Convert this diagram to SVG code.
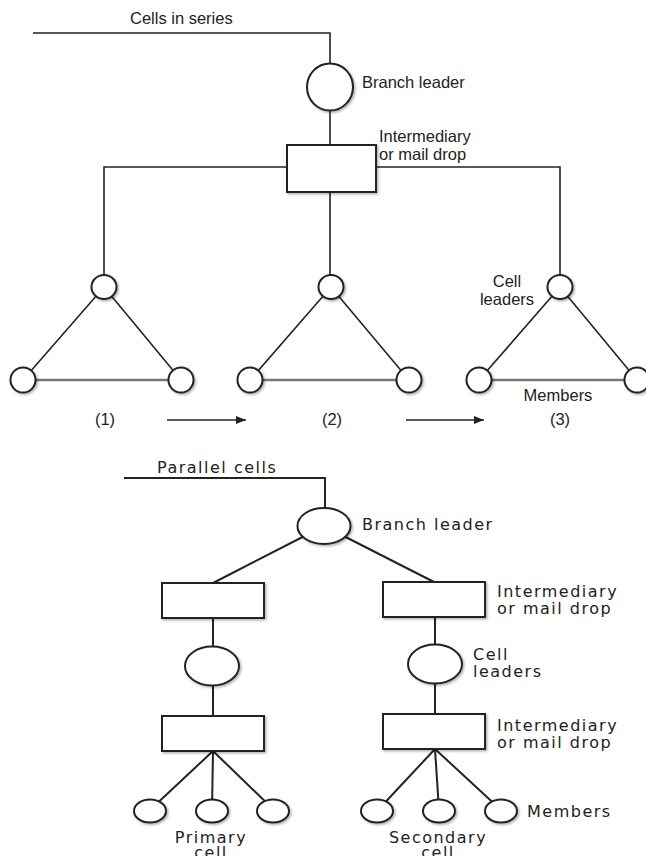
<svg xmlns="http://www.w3.org/2000/svg" width="646" height="856" viewBox="0 0 646 856">
<style>
.ln{stroke:#222;stroke-width:1.6;fill:none}
.ln2{stroke:#222;stroke-width:2;fill:none}
.base{stroke:#777;stroke-width:2.5;fill:none}
.nd{fill:#fff;stroke:#222;stroke-width:2;filter:url(#sh)}
.t{font-family:"Liberation Sans",Arial,sans-serif;font-size:16.5px;fill:#222}
.b{font-family:"DejaVu Sans","Liberation Sans",sans-serif;font-size:16px;fill:#222;letter-spacing:1.5px}
.m{text-anchor:middle}
</style>
<defs>
<filter id="sh" x="-30%" y="-30%" width="170%" height="170%">
<feDropShadow dx="1.5" dy="1.5" stdDeviation="1.2" flood-color="#000" flood-opacity="0.3"/>
</filter>
<marker id="ah" markerWidth="10" markerHeight="8" refX="10" refY="4" orient="auto" markerUnits="userSpaceOnUse">
<path d="M0,0 L10,4 L0,8 Z" fill="#222"/>
</marker>
</defs>

<g id="connectors">
<polyline class="ln" points="33,33 330,33 330,64"/>
<line class="ln" x1="330" y1="110" x2="330" y2="145"/>
<line class="ln" x1="330" y1="192" x2="330" y2="276"/>
<polyline class="ln" points="287,167 104,167 104,276"/>
<polyline class="ln" points="376,167 560,167 560,276"/>
<line class="ln" x1="104" y1="287" x2="23" y2="380"/>
<line class="ln" x1="104" y1="287" x2="181" y2="380"/>
<line class="base" x1="23" y1="380" x2="181" y2="380"/>
<line class="ln" x1="331" y1="287" x2="250" y2="380"/>
<line class="ln" x1="331" y1="287" x2="409" y2="380"/>
<line class="base" x1="250" y1="380" x2="409" y2="380"/>
<line class="ln" x1="560" y1="287" x2="479" y2="380"/>
<line class="ln" x1="560" y1="287" x2="637" y2="380"/>
<line class="base" x1="479" y1="380" x2="637" y2="380"/>
<line class="ln" x1="167" y1="420" x2="246" y2="420" marker-end="url(#ah)"/>
<line class="ln" x1="406" y1="420" x2="484" y2="420" marker-end="url(#ah)"/>
<polyline class="ln2" points="124,478 325,478 325,508"/>
<line class="ln2" x1="324" y1="526" x2="213" y2="583"/>
<line class="ln2" x1="324" y1="526" x2="434" y2="582"/>
<line class="ln2" x1="213" y1="618" x2="213" y2="647"/>
<line class="ln2" x1="435" y1="617" x2="435" y2="645"/>
<line class="ln2" x1="213" y1="685" x2="213" y2="716"/>
<line class="ln2" x1="435" y1="683" x2="435" y2="714"/>
<line class="ln2" x1="213" y1="751" x2="150" y2="810"/>
<line class="ln2" x1="213" y1="751" x2="212" y2="810"/>
<line class="ln2" x1="213" y1="751" x2="274" y2="810"/>
<line class="ln2" x1="435" y1="749" x2="378" y2="810"/>
<line class="ln2" x1="435" y1="749" x2="439" y2="810"/>
<line class="ln2" x1="435" y1="749" x2="501" y2="810"/>
</g>

<g id="series-branch-leader"><ellipse class="nd" cx="330" cy="87" rx="23" ry="23.5"/><text class="t" x="362" y="88">Branch leader</text></g>
<g id="series-intermediary"><rect class="nd" x="287" y="145" width="89" height="47"/><text class="t" x="379" y="142">Intermediary</text><text class="t" x="379" y="160">or mail drop</text></g>
<g id="series-label"><text class="t" x="130" y="24">Cells in series</text></g>

<g id="cell1">
<ellipse class="nd" cx="104" cy="287" rx="12.5" ry="12"/>
<ellipse class="nd" cx="23" cy="380" rx="12.5" ry="12.5"/>
<ellipse class="nd" cx="181" cy="380" rx="12.5" ry="12.5"/>
<text class="t m" x="105" y="425">(1)</text>
</g>
<g id="cell2">
<ellipse class="nd" cx="331" cy="287" rx="12.5" ry="12"/>
<ellipse class="nd" cx="250" cy="380" rx="12.5" ry="12.5"/>
<ellipse class="nd" cx="409" cy="380" rx="12.5" ry="12.5"/>
<text class="t m" x="332" y="425">(2)</text>
</g>
<g id="cell3">
<ellipse class="nd" cx="560" cy="287" rx="12.5" ry="12"/>
<ellipse class="nd" cx="479" cy="380" rx="12.5" ry="12.5"/>
<ellipse class="nd" cx="637" cy="380" rx="12.5" ry="12.5"/>
<text class="t m" x="507" y="287">Cell</text>
<text class="t m" x="507" y="305">leaders</text>
<text class="t m" x="558" y="401">Members</text>
<text class="t m" x="560" y="425">(3)</text>
</g>

<g id="parallel-label"><text class="b" x="157" y="473">Parallel cells</text></g>
<g id="parallel-branch-leader"><ellipse class="nd" cx="324" cy="526" rx="26.5" ry="18"/><text class="b" x="362" y="530">Branch leader</text></g>
<g id="parallel-intermediary-left"><rect class="nd" x="162" y="583" width="102" height="35"/></g>
<g id="parallel-intermediary-right"><rect class="nd" x="383" y="582" width="102" height="35"/><text class="b" x="497" y="597">Intermediary</text><text class="b" x="497" y="614">or mail drop</text></g>
<g id="primary-cell-leader"><ellipse class="nd" cx="212" cy="666" rx="27" ry="19.5"/></g>
<g id="secondary-cell-leader"><ellipse class="nd" cx="435" cy="664" rx="27" ry="19.5"/><text class="b" x="473" y="660">Cell</text><text class="b" x="473" y="677">leaders</text></g>
<g id="primary-intermediary"><rect class="nd" x="162" y="716" width="102" height="35"/></g>
<g id="secondary-intermediary"><rect class="nd" x="383" y="714" width="102" height="35"/><text class="b" x="497" y="731">Intermediary</text><text class="b" x="497" y="748">or mail drop</text></g>
<g id="primary-members">
<ellipse class="nd" cx="150" cy="811" rx="16" ry="11.5"/>
<ellipse class="nd" cx="212" cy="811" rx="16" ry="11.5"/>
<ellipse class="nd" cx="273" cy="811" rx="16" ry="11.5"/>
<text class="b m" x="211" y="843">Primary</text>
<text class="b m" x="211" y="858">cell</text>
</g>
<g id="secondary-members">
<ellipse class="nd" cx="377" cy="811" rx="16" ry="11.5"/>
<ellipse class="nd" cx="439" cy="811" rx="16" ry="11.5"/>
<ellipse class="nd" cx="501" cy="811" rx="16" ry="11.5"/>
<text class="b" x="527" y="817">Members</text>
<text class="b m" x="438" y="843">Secondary</text>
<text class="b m" x="438" y="858">cell</text>
</g>
</svg>
